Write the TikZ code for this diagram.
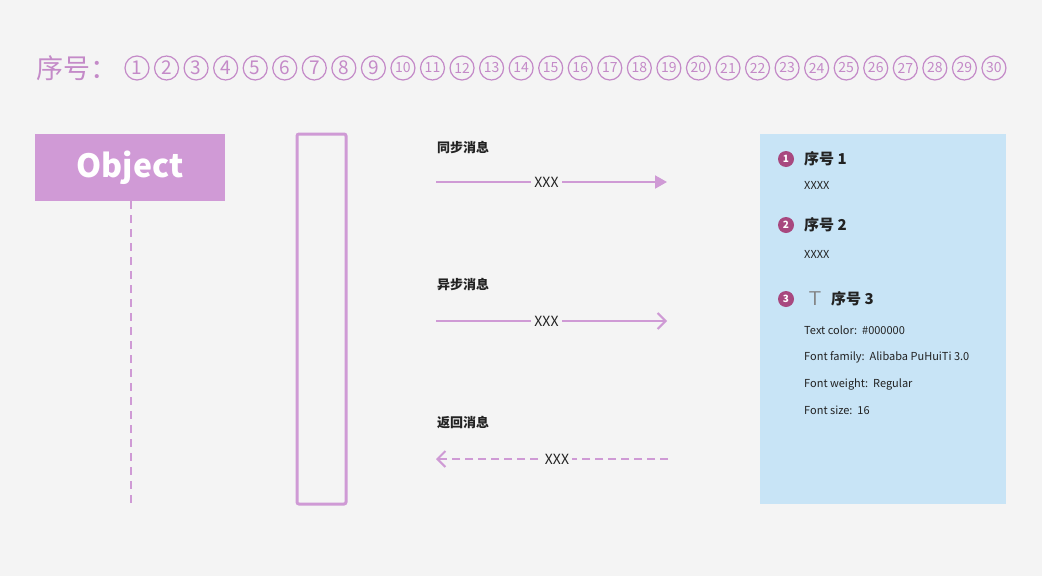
\documentclass[tikz,border=0pt]{standalone}
\usepackage{fontspec}
\setmainfont{Noto Sans CJK SC}
\usetikzlibrary{arrows.meta}
\definecolor{bgc}{HTML}{F4F4F4}
\definecolor{lilac}{HTML}{D09AD6}
\definecolor{lilacline}{HTML}{CF9AD5}
\definecolor{numc}{HTML}{C48AC8}
\definecolor{panelc}{HTML}{C8E4F6}
\definecolor{badgec}{HTML}{A8487F}
\definecolor{txtc}{HTML}{222222}
\tikzset{
  msg/.style={lilacline, line width=2pt},
  lbl/.style={anchor=west, inner sep=0pt, font=\fontsize{13}{13}\selectfont\bfseries, text=txtc},
  xxx/.style={fill=bgc, inner sep=3pt, font=\fontsize{14}{14}\selectfont, text=txtc},
  badge/.style={circle, fill=badgec, minimum size=16pt, inner sep=0pt, text=white, font=\fontsize{10}{10}\selectfont\bfseries},
  head/.style={anchor=west, inner sep=0pt, font=\fontsize{15}{15}\selectfont\bfseries, text=txtc},
  info/.style={anchor=west, inner sep=0pt, font=\fontsize{11}{11}\selectfont, text=txtc},
}
\begin{document}
\begin{tikzpicture}[x=1pt,y=-1pt]
\fill[bgc] (0,0) rectangle (1042,576);
\useasboundingbox (0,0) rectangle (1042,576);

% number row
\node[anchor=west, inner sep=0pt, text=numc, font=\fontsize{27}{27}\selectfont] (title) at (36,68) {序号：};
\foreach \i in {1,...,30}{
  \node[circle, draw=numc, line width=1.2pt, minimum size=24pt, inner sep=0pt, text=numc,
        font=\fontsize{\ifnum\i<10 19\else 14\fi}{14}\selectfont] (n\i) at ({137+29.55*(\i-1)},68) {\i};
}

% object and lifeline
\node[fill=lilac, minimum width=190pt, minimum height=67pt, text=white, font=\fontsize{32}{32}\selectfont\bfseries] (obj) at (130,167.5) {Object};
\coordinate (lifeend) at (131,505);
\draw[lilacline, line width=2pt, dash pattern=on 8pt off 6pt] (obj.south -| lifeend) -- (lifeend);

% activation bar
\draw[lilacline, line width=3pt, rounded corners=2pt] (297,134) rectangle (346,504);

% messages
\node[lbl] (sync) at (437,147) {同步消息};
\coordinate (s1) at (436,182); \coordinate (s2) at (667,182);
\draw[msg, -{Triangle[length=12pt, width=13pt]}] (s1) -- (s2) node[xxx, midway, xshift=-5pt] (sx) {XXX};

\node[lbl] (async) at (437,285) {异步消息};
\coordinate (a1) at (436,321); \coordinate (a2) at (667,321);
\draw[msg, -{Straight Barb[length=8pt, width=16pt]}] (a1) -- (a2) node[xxx, midway, xshift=-5pt] (ax) {XXX};

\node[lbl] (ret) at (437,423) {返回消息};
\coordinate (r1) at (668,459); \coordinate (r2) at (436,459);
\draw[msg, dash pattern=on 8pt off 5pt, -{Straight Barb[length=8pt, width=16pt]}] (r1) -- (r2) node[xxx, midway, xshift=5pt] (rx) {XXX};

% info panel
\fill[panelc] (760,134) rectangle (1006,504);
\node[badge] (b1) at (786,159) {1};
\node[head] (h1) at (804,159) {序号 1};
\node[info] (t1) at (804,185) {XXXX};
\node[badge] (b2) at (786,225) {2};
\node[head] (h2) at (804,225) {序号 2};
\node[info] (t2) at (804,254) {XXXX};
\node[badge] (b3) at (786,299) {3};
\node[anchor=center, inner sep=0pt, text=gray, font=\fontsize{20}{20}\selectfont\sffamily] (ticon) at (815,299) {T};
\node[head] (h3) at (831,299) {序号 3};
\node[info] (t3) at (804,330) {Text color:\ \ \#000000};
\node[info] (t4) at (804,357) {Font family:\ \ Alibaba PuHuiTi 3.0};
\node[info] (t5) at (804,384) {Font weight:\ \ Regular};
\node[info] (t6) at (804,410) {Font size:\ \ 16};
\end{tikzpicture}
\end{document}
